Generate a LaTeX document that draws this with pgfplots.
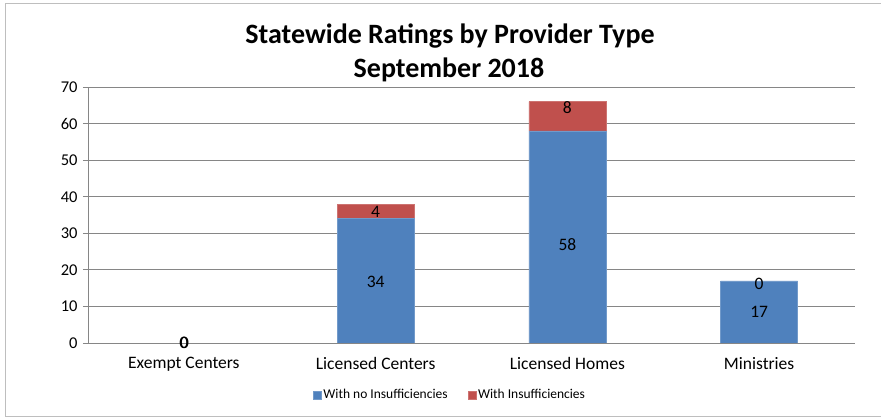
\documentclass[border=0pt]{standalone}
\usepackage{pgfplots}
\pgfplotsset{compat=1.18}
\usepackage{fontspec}
\setmainfont{Carlito}
\definecolor{cblue}{HTML}{4F81BD}
\definecolor{cred}{HTML}{C0504D}
\definecolor{gridgray}{RGB}{134,134,134}
\definecolor{framegray}{RGB}{190,190,190}
\begin{document}
\begin{tikzpicture}
\path[use as bounding box] (0,0) rectangle (881bp,419bp);
\begin{axis}[
  at={(88bp,76bp)}, anchor=south west,
  scale only axis, width=767bp, height=256bp,
  xmin=-0.5, xmax=3.5, ymin=0, ymax=70,
  ybar stacked, bar width=77bp,
  axis x line*=bottom, axis y line*=left,
  axis line style={-, draw=gridgray, line width=0.8bp},
  ytick={0,10,...,70},
  ymajorgrids, grid style={gridgray, line width=0.8bp},
  xtick={0,1,2,3},
  xticklabels={Exempt Centers, Licensed Centers, Licensed Homes, Ministries},
  x tick style={draw=none},
  y tick style={gridgray, line width=0.8bp},
  tick align=outside, major tick length=5bp,
  extra x ticks={-0.5,0.5,1.5,2.5,3.5},
  extra x tick labels={},
  extra x tick style={tick style={draw=gridgray, line width=0.8bp}, major tick length=5bp},
  x tick label style={font=\fontsize{17.5bp}{20bp}\selectfont, yshift=-6bp},
  y tick label style={font=\fontsize{16.5bp}{19bp}\selectfont, xshift=-2bp},
  /pgf/number format/assume math mode=true,
  legend style={at={(0.472,-0.203)}, anchor=center, draw=none, fill=none,
    legend columns=2, font=\fontsize{13.5bp}{16bp}\selectfont,
    /tikz/every even column/.append style={column sep=18bp}},
  legend image code/.code={\fill[#1] (0bp,-4bp) rectangle (8bp,4bp);},
]
\addplot[fill=cblue, draw=cblue!80!white] coordinates {(0,0) (1,34) (2,58) (3,17)};
\addplot[fill=cred, draw=cred!80!white] coordinates {(0,0) (1,4) (2,8) (3,0)};
\legend{With no Insufficiencies, With Insufficiencies}
\end{axis}
\begin{axis}[
  at={(88bp,76bp)}, anchor=south west,
  scale only axis, width=767bp, height=256bp,
  xmin=-0.5, xmax=3.5, ymin=0, ymax=70,
  hide axis, clip=false,
]
\addplot[only marks, mark=none, point meta=explicit symbolic,
  nodes near coords,
  nodes near coords style={anchor=center, font=\fontsize{17.5bp}{20bp}\selectfont, text=black}]
  coordinates {
    (0,0) [0]
    (0.003,0) [0]
    (1,16.7) [34]
    (1,35.8) [4]
    (2,26.8) [58]
    (2,64.5) [8]
    (3,8.5) [17]
    (3,16.3) [0]
  };
\end{axis}
\node[font=\fontsize{28bp}{32bp}\selectfont\bfseries] at (450bp,383bp) {Statewide Ratings by Provider Type};
\node[font=\fontsize{28bp}{32bp}\selectfont\bfseries] at (449bp,349bp) {September 2018};
\draw[framegray, line width=0.8bp] (881bp,416bp) -- (5bp,416bp) -- (5bp,3bp) -- (881bp,3bp);
\end{tikzpicture}
\end{document}
